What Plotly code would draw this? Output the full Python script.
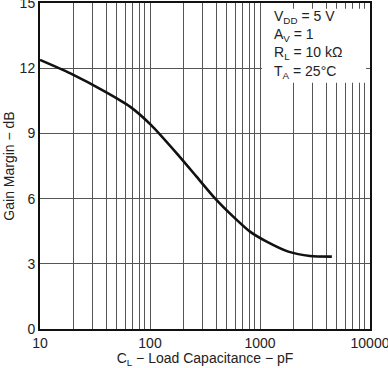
import plotly.graph_objects as go

# Data
cap_pf = [10, 18.7, 39, 65.8, 102, 175, 265, 390, 571, 811, 1150, 1810, 2850, 4500]
gain_db = [12.38, 11.77, 10.92, 10.23, 9.39, 8.08, 7.01, 6.01, 5.17, 4.48, 4.02, 3.56, 3.36, 3.33]

x_major = [10, 100, 1000, 10000]
x_minor = [v * m for m in (10, 100, 1000) for v in range(2, 10)]
y_ticks = [0, 3, 6, 9, 12, 15]

conditions = ["V<sub>DD</sub> = 5 V", "A<sub>V</sub> = 1", "R<sub>L</sub> = 10 kΩ", "T<sub>A</sub> = 25°C"]

FONT = "Liberation Sans, Arial, sans-serif"
TXT = "#222222"

fig = go.Figure()
fig.add_trace(go.Scatter(x=cap_pf, y=gain_db, mode="lines",
                         line=dict(color="#111111", width=2.6, shape="spline", smoothing=0.6),
                         showlegend=False, hoverinfo="skip"))

fig.update_layout(
    width=388, height=368,
    margin=dict(l=40, r=18, t=3, b=39, autoexpand=False),
    paper_bgcolor="white", plot_bgcolor="white",
    font=dict(family=FONT, size=14, color=TXT),
    xaxis=dict(type="log", range=[1, 4], tickmode="array", tickvals=x_major,
               ticktext=[str(v) for v in x_major], ticklabeloverflow="allow",
               showgrid=True, gridcolor="#555555", gridwidth=1,
               minor=dict(tickmode="array", tickvals=x_minor, showgrid=True,
                          gridcolor="#555555", gridwidth=1, ticks=""),
               showline=True, linecolor="#111111", linewidth=2, mirror=True,
               ticks="", zeroline=False, automargin=False,
               tickfont=dict(size=14),
               title=dict(text="C<sub>L</sub> − Load Capacitance − pF", standoff=0,
                          font=dict(size=14))),
    yaxis=dict(range=[0, 15], tickvals=y_ticks, ticklabeloverflow="allow",
               showgrid=True, gridcolor="#555555", gridwidth=1,
               showline=True, linecolor="#111111", linewidth=2, mirror=True,
               ticks="", zeroline=False, automargin=False,
               tickfont=dict(size=14),
               title=dict(text="Gain Margin − dB", standoff=2, font=dict(size=14))),
)

# White box behind conditions text
fig.add_shape(type="rect", xref="paper", yref="paper",
              x0=0.673, x1=0.988, y0=0.755, y1=0.982,
              fillcolor="white", line=dict(width=0), layer="above")

fig.add_annotation(xref="paper", yref="paper", x=0.703, y=0.99,
                   xanchor="left", yanchor="top", align="left", showarrow=False,
                   text="<br>".join(conditions),
                   font=dict(family=FONT, size=14, color=TXT))

fig.write_html("out.html", config={"displayModeBar": False},
               post_script="document.body.style.margin='0';document.body.style.overflow='hidden';")
